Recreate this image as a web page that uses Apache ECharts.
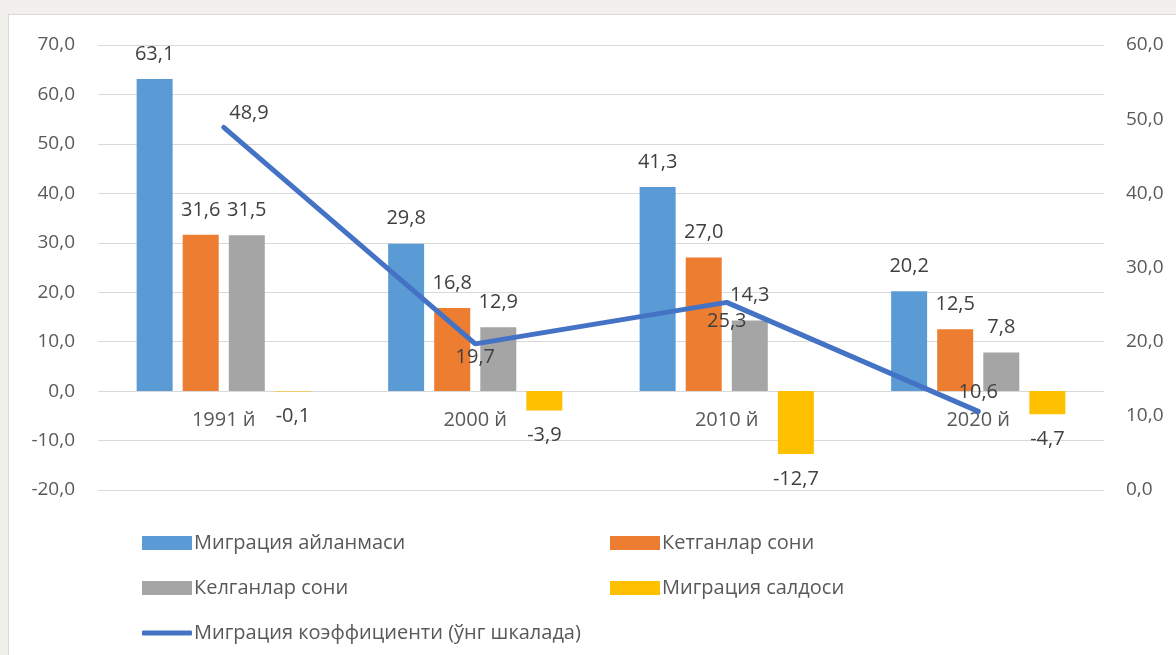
<!DOCTYPE html>
<html>
<head>
<meta charset="utf-8">
<script src="https://cdn.jsdelivr.net/npm/echarts@6/dist/echarts.min.js"></script>
<style>
    html, body { margin: 0; padding: 0; width: 1176px; height: 655px; background: #f1f0ed; overflow: hidden; }
    #chart { position: absolute; left: 8px; top: 14px; width: 1168px; height: 641px;
             background: #fff; border-left: 1px solid #d9d9d9; border-top: 1px solid #d9d9d9; }
</style>
</head>
<body>
<div id="chart"></div>
<script>
var years = ['1991 й', '2000 й', '2010 й', '2020 й'];
var turnover = [63.1, 29.8, 41.3, 20.2];
var leaving = [31.6, 16.8, 27.0, 12.5];
var arriving = [31.5, 12.9, 14.3, 7.8];
var balance = [-0.1, -3.9, -12.7, -4.7];
var coefficient = [48.9, 19.7, 25.3, 10.6];

var names = ['Миграция айланмаси', 'Кетганлар сони', 'Келганлар сони', 'Миграция салдоси',
    'Миграция коэффициенти (ўнг шкалада)'];
var colors = ['#5b9bd5', '#ed7d31', '#a5a5a5', '#ffc000', '#4472c4'];

var FONT = '"Open Sans", sans-serif';
var fmt = function (v) { return Number(v).toFixed(1).replace('.', ','); };

// line label placement per point, like on the slide
var lineLabelPos = [
    {position: 'right', distance: 5, offset: [0, -14]},
    {position: 'bottom', distance: 3},
    {position: 'bottom', distance: 8},
    {position: 'top', distance: 9}
];

var myChart = echarts.init(document.getElementById('chart'));

var barSeries = function (idx, data) {
    return {
        name: names[idx],
        type: 'bar',
        data: data.map(function (v) {
            return {value: v, label: {show: true, position: v < 0 ? 'bottom' : 'top'}};
        }),
        barWidth: 36,
        barGap: '28%',
        itemStyle: {color: colors[idx]},
        label: {
            show: true,
            distance: 15,
            color: '#404040',
            fontFamily: FONT,
            fontSize: 20,
            formatter: function (p) { return fmt(p.value); }
        }
    };
};

var legendItem = function (idx, left, top, isLine) {
    return {
        left: left,
        top: top,
        data: [names[idx]],
        itemWidth: 50,
        itemHeight: isLine ? 5 : 14,
        itemGap: 0,
        icon: isLine ? 'roundRect' : 'rect',
        textStyle: {color: '#595959', fontFamily: FONT, fontSize: 20, padding: [0, 0, 0, -3]},
        selectedMode: false
    };
};

var plotH = 445;
var yMin = -20, yMax = 70;
// category axis sits on the zero line of the left scale
var zeroOffset = -plotH * (0 - yMin) / (yMax - yMin);

var option = {
    animation: false,
    textStyle: {fontFamily: FONT},
    grid: {left: 89, right: 73, top: 30, height: plotH},
    legend: [
        legendItem(0, 128, 513),
        legendItem(1, 596, 513),
        legendItem(2, 128, 558),
        legendItem(3, 596, 558),
        legendItem(4, 128, 603, true)
    ],
    xAxis: {
        type: 'category',
        data: years,
        offset: zeroOffset,
        axisLine: {show: false, onZero: false},
        axisTick: {show: false},
        axisLabel: {color: '#595959', fontSize: 20, fontFamily: FONT, margin: 19}
    },
    yAxis: [
        {
            type: 'value',
            min: yMin,
            max: yMax,
            interval: 10,
            axisLine: {show: false},
            axisTick: {show: false},
            splitLine: {lineStyle: {color: '#d9d9d9', width: 1}},
            axisLabel: {color: '#595959', fontSize: 19, fontFamily: FONT, margin: 23, formatter: fmt}
        },
        {
            type: 'value',
            min: 0,
            max: 60,
            interval: 10,
            axisLine: {show: false},
            axisTick: {show: false},
            splitLine: {show: false},
            axisLabel: {color: '#595959', fontSize: 19, fontFamily: FONT, margin: 22, formatter: fmt}
        }
    ],
    series: [
        barSeries(0, turnover),
        barSeries(1, leaving),
        barSeries(2, arriving),
        barSeries(3, balance),
        {
            name: names[4],
            type: 'line',
            yAxisIndex: 1,
            data: coefficient.map(function (v, i) {
                var lp = lineLabelPos[i];
                return {value: v, label: {show: true, position: lp.position, distance: lp.distance, offset: lp.offset || [0, 0]}};
            }),
            symbol: 'circle',
            symbolSize: 1,
            showSymbol: true,
            z: 5,
            lineStyle: {color: colors[4], width: 5, cap: 'round'},
            itemStyle: {color: colors[4]},
            label: {
                show: true,
                color: '#404040',
                fontFamily: FONT,
                fontSize: 20,
                formatter: function (p) { return fmt(p.value); }
            }
        }
    ]
};
myChart.setOption(option);
</script>
</body>
</html>
